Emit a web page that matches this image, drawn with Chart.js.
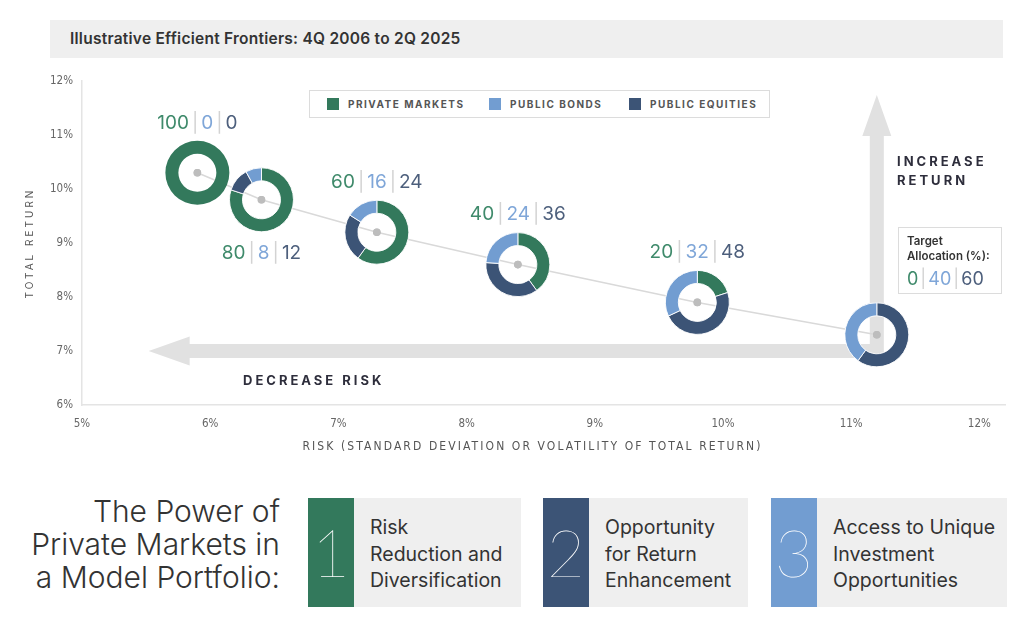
<!DOCTYPE html>
<html><head><meta charset="utf-8">
<script src="https://cdn.jsdelivr.net/npm/chart.js@4.4.1/dist/chart.umd.min.js"></script>
<style>
html,body{margin:0;padding:0;background:#fff;}
body{width:1024px;height:621px;position:relative;overflow:hidden;font-family:Inter,'Noto Sans',sans-serif;}
.abs{position:absolute;}
#chartWrap{left:0;top:0;width:1024px;height:470px;}
#titleBar{left:50px;top:20px;width:953px;height:38px;background:#efefef;}
#titleBar span{position:absolute;left:20px;top:0;line-height:38px;font-size:15.5px;letter-spacing:0.25px;font-weight:600;color:#333;white-space:nowrap;}
#legend{left:309px;top:90px;width:459px;height:26px;border:1px solid #dcdcdc;background:#fff;}
.lg{position:absolute;top:0;height:26px;display:flex;align-items:center;font-size:10px;font-weight:700;letter-spacing:1.5px;color:#555;white-space:nowrap;}
.lg i{display:inline-block;width:12px;height:12px;margin-right:9px;}
.arrowTxt{font-size:13px;font-weight:700;letter-spacing:3px;color:#2e2e3c;line-height:19px;white-space:nowrap;}
#target{left:898px;top:227px;width:102px;height:65px;border:1px solid #dcdcdc;background:#fff;}
#target .t1{position:absolute;left:8px;top:6px;font-size:11.5px;font-weight:600;color:#333;line-height:15px;}
#target .t2{position:absolute;left:8px;top:40px;font-size:18px;line-height:22px;white-space:nowrap;}
.sep{color:#d3d3d3;margin:0 2px;}
#heading{left:0;top:495px;width:280px;text-align:right;font-size:30px;font-weight:300;line-height:33px;color:#333;white-space:nowrap;}
.box{top:498px;height:109px;background:#efefef;}
.num{position:absolute;left:0;top:0;width:46px;height:109px;color:#fff;font-family:Lato,Inter,sans-serif;font-weight:100;font-size:66px;line-height:107px;text-align:center;}
.btxt{position:absolute;left:62px;top:16px;font-size:19.5px;line-height:26.5px;color:#333;white-space:nowrap;}
</style>
</head>
<body>
<div id="chartWrap" class="abs"><canvas id="c" width="1024" height="470"></canvas></div>
<div id="titleBar" class="abs"><span>Illustrative Efficient Frontiers: 4Q 2006 to 2Q 2025</span></div>
<div id="legend" class="abs"></div>
<div class="abs arrowTxt" style="left:897px;top:152px;">INCREASE<br>RETURN</div>
<div class="abs arrowTxt" style="left:243px;top:371px;">DECREASE RISK</div>
<div id="target" class="abs"><div class="t1">Target<br>Allocation (%):</div><div class="t2" id="targetNums"></div></div>
<div id="heading" class="abs">The Power of<br>Private Markets in<br>a Model Portfolio:</div>
<div id="boxes"></div>
<script>
// ---------- data ----------
const seriesNames = ['PRIVATE MARKETS', 'PUBLIC BONDS', 'PUBLIC EQUITIES'];
const riskValues = [5.9, 6.4, 7.3, 8.4, 9.8, 11.2];      // x: risk (%)
const returnValues = [10.3, 9.8, 9.2, 8.6, 7.9, 7.3];    // y: total return (%)
const privateMarkets = [100, 80, 60, 40, 20, 0];
const publicBonds = [0, 8, 16, 24, 32, 40];
const publicEquities = [0, 12, 24, 36, 48, 60];
const xTicks = [5, 6, 7, 8, 9, 10, 11, 12];
const yTicks = [6, 7, 8, 9, 10, 11, 12];
const pillarNumbers = ['1', '2', '3'];
const pillarTexts = [['Risk', 'Reduction and', 'Diversification'], ['Opportunity', 'for Return', 'Enhancement'], ['Access to Unique', 'Investment', 'Opportunities']];

// ---------- styles ----------
const GREEN = '#33795c', LIGHT = '#729dd1', NAVY = '#3c5476';
const TXT_GREEN = '#3f8a6b', TXT_LIGHT = '#7fa6d8', TXT_NAVY = '#4d5f7c', TXT_SEP = '#d3d3d3';
const seriesColors = [GREEN, LIGHT, NAVY];
const labelSide = [-1, 1, -1, -1, -1, 0];   // -1 above, 1 below, 0 none
const arrowSpec = { cornerRisk: 11.2, cornerReturn: 7.0, tipRisk: 5.52, tipReturn: 11.74 };

// legend
const legend = document.getElementById('legend');
const legendLefts = [17, 179, 319];
seriesNames.forEach((n, i) => {
  const d = document.createElement('div');
  d.className = 'lg';
  d.style.left = legendLefts[i] + 'px';
  d.innerHTML = '<i style="background:' + seriesColors[i] + '"></i>' + n;
  legend.appendChild(d);
});

// target allocation numbers from last point
const li = riskValues.length - 1;
document.getElementById('targetNums').innerHTML =
  '<span style="color:' + TXT_GREEN + '">' + privateMarkets[li] + '</span><span class="sep">|</span>' +
  '<span style="color:' + TXT_LIGHT + '">' + publicBonds[li] + '</span><span class="sep">|</span>' +
  '<span style="color:' + TXT_NAVY + '">' + publicEquities[li] + '</span>';

// pillars
const boxGeo = [{ l: 308, w: 213, c: GREEN }, { l: 543, w: 205, c: NAVY }, { l: 771, w: 236, c: LIGHT }];
const boxes = document.getElementById('boxes');
pillarNumbers.forEach((n, i) => {
  const b = document.createElement('div');
  b.className = 'abs box';
  b.style.left = boxGeo[i].l + 'px';
  b.style.width = boxGeo[i].w + 'px';
  b.innerHTML = '<div class="num" style="background:' + boxGeo[i].c + '">' + n + '</div><div class="btxt">' + pillarTexts[i].join('<br>') + '</div>';
  boxes.appendChild(b);
});

// letter-spacing support for axis titles
const origDrawTitle = Chart.Scale.prototype.drawTitle;
Chart.Scale.prototype.drawTitle = function () {
  const t = this.options.title;
  const ctx = this.ctx;
  ctx.save();
  if ('letterSpacing' in ctx) ctx.letterSpacing = (t.letterSpacing || 0) + 'px';
  ctx.translate(t.offsetX || 0, 0);
  origDrawTitle.call(this);
  ctx.restore();
};

const arrowPlugin = {
  id: 'arrows',
  beforeDatasetsDraw(chart) {
    const { ctx, scales: { x, y } } = chart;
    const cx = x.getPixelForValue(arrowSpec.cornerRisk);
    const cy = y.getPixelForValue(arrowSpec.cornerReturn);
    const tipX = x.getPixelForValue(arrowSpec.tipRisk);
    const tipY = y.getPixelForValue(arrowSpec.tipReturn);
    const hw = 7, hh = 14.5, hl = 41;
    ctx.save();
    ctx.fillStyle = '#e1e1e1';
    ctx.beginPath();
    ctx.moveTo(tipX, cy);
    ctx.lineTo(tipX + hl, cy - hh);
    ctx.lineTo(tipX + hl, cy - hw);
    ctx.lineTo(cx - hw, cy - hw);
    ctx.lineTo(cx - hw, tipY + hl);
    ctx.lineTo(cx - hh, tipY + hl);
    ctx.lineTo(cx, tipY);
    ctx.lineTo(cx + hh, tipY + hl);
    ctx.lineTo(cx + hw, tipY + hl);
    ctx.lineTo(cx + hw, cy + hw);
    ctx.lineTo(tipX + hl, cy + hw);
    ctx.lineTo(tipX + hl, cy + hh);
    ctx.closePath();
    ctx.fill();
    ctx.restore();
  }
};

const donutPlugin = {
  id: 'donuts',
  afterDatasetsDraw(chart) {
    const { ctx, scales: { x, y } } = chart;
    const R = 32, r = 19;
    ctx.save();
    riskValues.forEach((rv, i) => {
      const cx = x.getPixelForValue(rv), cy = y.getPixelForValue(returnValues[i]);
      const parts = [[privateMarkets[i], GREEN], [publicEquities[i], NAVY], [publicBonds[i], LIGHT]];
      let a = -Math.PI / 2;
      const nonZero = parts.filter(p => p[0] > 0).length;
      parts.forEach(([v, c]) => {
        if (!v) return;
        const sw = v / 100 * Math.PI * 2;
        ctx.beginPath();
        ctx.arc(cx, cy, R, a, a + sw);
        ctx.arc(cx, cy, r, a + sw, a, true);
        ctx.closePath();
        ctx.fillStyle = c;
        ctx.fill();
        if (nonZero > 1) { ctx.strokeStyle = 'rgba(255,255,255,0.9)'; ctx.lineWidth = 1; ctx.stroke(); }
        a += sw;
      });
      // center dot
      ctx.beginPath();
      ctx.arc(cx, cy, 3.8, 0, Math.PI * 2);
      ctx.fillStyle = '#bdbdbd';
      ctx.fill();
      // label
      const side = labelSide[i];
      if (side !== 0) {
        const ly = cy + (side < 0 ? -50 : 53);
        ctx.font = '400 19px Inter, "Noto Sans", sans-serif';
        ctx.textBaseline = 'middle';
        ctx.textAlign = 'left';
        const segs = [[String(privateMarkets[i]), TXT_GREEN], ['|', TXT_SEP], [String(publicBonds[i]), TXT_LIGHT], ['|', TXT_SEP], [String(publicEquities[i]), TXT_NAVY]];
        const gap = 3;
        let total = 0;
        segs.forEach(s => total += ctx.measureText(s[0]).width);
        total += gap * 4;
        let px = cx - total / 2;
        segs.forEach(s => {
          ctx.fillStyle = s[1];
          ctx.fillText(s[0], px, ly);
          px += ctx.measureText(s[0]).width + gap;
        });
      }
    });
    ctx.restore();
  }
};

const tickFont = { family: "'Liberation Sans Narrow','DejaVu Sans Condensed',Roboto,sans-serif", size: 11.5 };

new Chart(document.getElementById('c'), {
  type: 'scatter',
  data: {
    datasets: [{
      label: 'Efficient frontier',
      data: riskValues.map((v, i) => ({ x: v, y: returnValues[i] })),
      showLine: true,
      borderColor: '#d9d9d9',
      borderWidth: 1.5,
      pointRadius: 3.8,
      pointHoverRadius: 3.8,
      pointBackgroundColor: '#bdbdbd',
      pointBorderWidth: 0,
      tension: 0
    }]
  },
  options: {
    responsive: false,
    animation: false,
    events: [],
    layout: { padding: { top: 81, right: 19, left: 0, bottom: 0 } },
    plugins: { legend: { display: false }, tooltip: { enabled: false }, title: { display: false } },
    scales: {
      x: {
        type: 'linear', min: 5, max: 12.2,
        afterBuildTicks: s => { s.ticks = xTicks.map(v => ({ value: v })); },
        afterFit: s => { s.height = 65; },
        grid: { display: true, color: 'rgba(0,0,0,0)', drawTicks: false },
        border: { display: true, color: '#e4e4e4', width: 1.5 },
        ticks: { padding: 12, color: '#666', font: tickFont, callback: v => v + '%', maxRotation: 0, autoSkip: false },
        title: { display: true, text: 'RISK (STANDARD DEVIATION OR VOLATILITY OF TOTAL RETURN)', color: '#555', font: { family: tickFont.family, size: 12 }, padding: { top: 0, bottom: 16 }, letterSpacing: 2.1, offsetX: -11 }
      },
      y: {
        type: 'linear', min: 6, max: 12,
        afterBuildTicks: s => { s.ticks = yTicks.map(v => ({ value: v })); },
        afterFit: s => { s.width = 82; },
        grid: { display: true, color: 'rgba(0,0,0,0)', drawTicks: false },
        border: { display: true, color: '#e4e4e4', width: 1.5 },
        ticks: { padding: 9, color: '#666', font: tickFont, callback: v => v + '%', autoSkip: false },
        title: { display: true, text: 'TOTAL RETURN', color: '#555', font: { family: "Inter,'Noto Sans',sans-serif", size: 10 }, padding: { top: 24, bottom: 0 }, letterSpacing: 3 }
      }
    }
  },
  plugins: [arrowPlugin, donutPlugin]
});
</script>
</body></html>
